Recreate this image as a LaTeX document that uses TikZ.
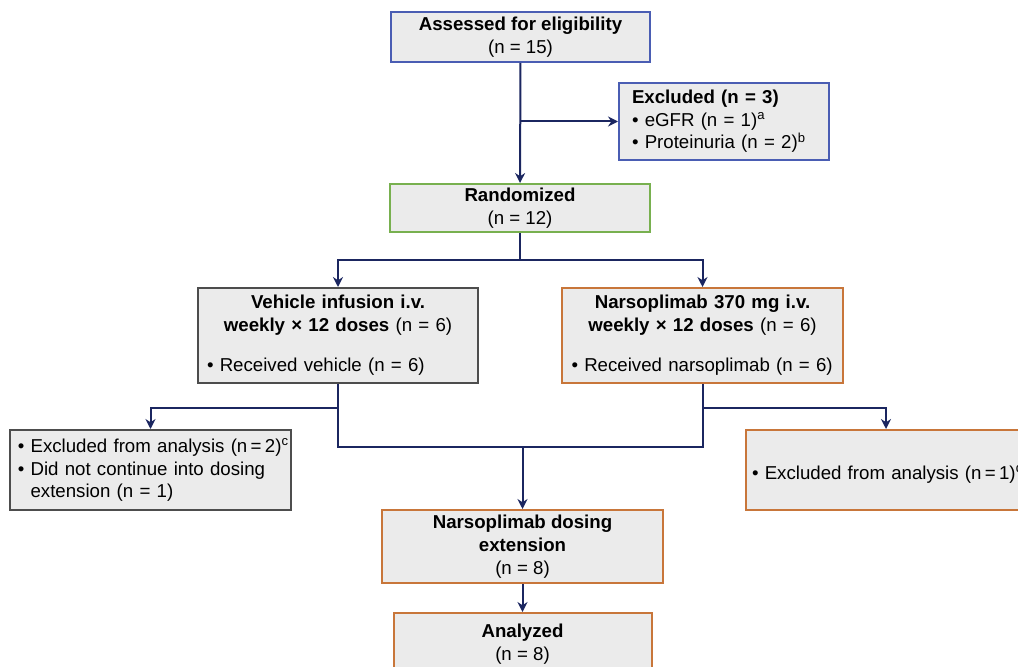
\documentclass[tikz,border=0pt]{standalone}
\usepackage{fontspec}
\setmainfont{Liberation Sans}
\usepackage{xcolor}
\usetikzlibrary{shapes,arrows.meta,positioning}

\definecolor{navyline}{HTML}{1B2660}
\definecolor{boxgray}{HTML}{EBEBEB}
\definecolor{bluebox}{HTML}{4A5DB3}
\definecolor{greenbox}{HTML}{78B04F}
\definecolor{darkbox}{HTML}{4D4D4D}
\definecolor{orangebox}{HTML}{C8763A}

\begin{document}
\begin{tikzpicture}[
    x=0.75pt, y=-0.75pt,
    font=\fontsize{14pt}{17pt}\selectfont,
    block/.style={draw, line width=1.5pt, fill=boxgray, align=center, inner sep=0pt},
    arrow/.style={-{Stealth[length=7.5pt,width=7.5pt]}, line width=1.5pt, draw=navyline},
    link/.style={line width=1.5pt, draw=navyline}
]
    \useasboundingbox (0,0) rectangle (1018,667);
    \clip (0,0) rectangle (1018,667);

    % Screening
    \node[block, draw=bluebox, minimum width=194.25pt, minimum height=37.5pt] (assessed) at (520.5,37) {\textbf{Assessed for eligibility}\\(n = 15)};
    \node[block, draw=bluebox, text width=138pt, inner xsep=9.75pt, minimum height=57.75pt, align=left, anchor=west] (excluded) at (618,121.5) {\textbf{Excluded (n = 3)}\\• eGFR (n = 1)\textsuperscript{a}\\• Proteinuria (n = 2)\textsuperscript{b}};

    % Randomization
    \node[block, draw=greenbox, minimum width=195pt, minimum height=36pt] (random) at (520,208) {\textbf{Randomized}\\(n = 12)};

    % Treatment arms
    \node[block, draw=darkbox, text width=196.5pt, inner xsep=6.75pt, minimum height=71.25pt, align=left] (vehicle) at (338,335.5) {{\centering\textbf{Vehicle infusion i.v.}\\\textbf{weekly × 12 doses} (n = 6)\par}\vspace{13pt}• Received vehicle (n = 6)};
    \node[block, draw=orangebox, text width=196.5pt, inner xsep=7pt, minimum height=71.25pt, align=left] (narso) at (702.5,335.5) {{\centering\textbf{Narsoplimab 370 mg i.v.}\\\textbf{weekly × 12 doses} (n = 6)\par}\vspace{13pt}\mbox{• Received narsoplimab (n = 6)}};

    % Exclusions after treatment
    \node[block, draw=darkbox, text width=199pt, inner xsep=6pt, minimum height=60pt, align=left] (exclleft) at (150.5,470) {\mbox{• Excluded from analysis (n\hspace{2.5pt}=\hspace{2.5pt}2)\textsuperscript{c}}\\• Did not continue into dosing\\\phantom{• }extension (n = 1)};
    \node[block, draw=orangebox, text width=201pt, inner xsep=4.5pt, minimum height=60pt, align=left] (exclright) at (886,470) {\hspace{4.5pt}\mbox{• Excluded from analysis (n\hspace{2.5pt}=\hspace{2.5pt}1)\textsuperscript{d}}};

    % Extension and analysis
    \node[block, draw=orangebox, minimum width=210.75pt, minimum height=54.75pt] (dosing) at (522.5,546.5) {\textbf{Narsoplimab dosing}\\\textbf{extension}\\(n = 8)};
    \node[block, draw=orangebox, minimum width=193.5pt, minimum height=46.5pt] (analyzed) at (522.5,644) {\textbf{Analyzed}\\(n = 8)};

    % Junctions
    \coordinate (armsplit) at (520,260);
    \coordinate (vsplit) at (338,408);
    \coordinate (nsplit) at (702.5,408);
    \coordinate (merge) at (522.5,447);

    % Arrows
    \draw[arrow] (assessed) -- (random);
    \draw[arrow] (assessed.south |- excluded.west) -- (excluded.west);
    \draw[link] (random) -- (armsplit);
    \draw[arrow] (armsplit) -| (vehicle.north);
    \draw[arrow] (armsplit) -| (narso.north);
    \draw[link] (vehicle.south) -- (vehicle.south |- merge) -- (narso.south |- merge) -- (narso.south);
    \draw[arrow] (vsplit) -| (exclleft.north);
    \draw[arrow] (nsplit) -| (exclright.north);
    \draw[arrow] (merge) -- (dosing.north);
    \draw[arrow] (dosing) -- (analyzed);

\end{tikzpicture}
\end{document}
